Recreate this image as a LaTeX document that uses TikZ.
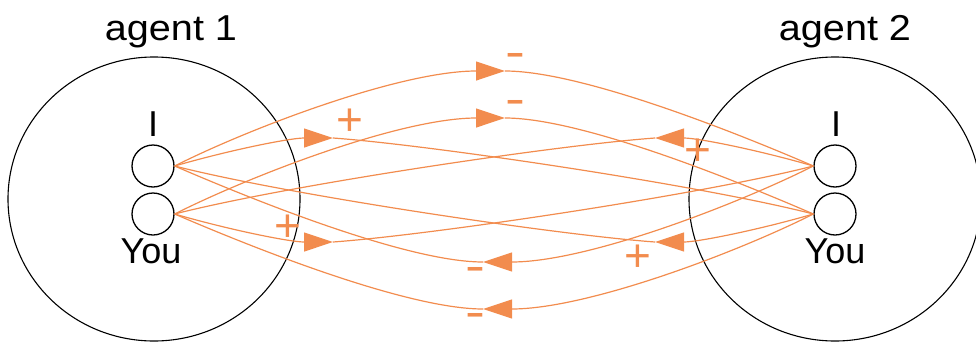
\documentclass[tikz,border=0pt]{standalone}
\usepackage{fontspec}
\setmainfont{Liberation Sans}
\usetikzlibrary{arrows.meta,shapes.geometric}
\definecolor{linkc}{RGB}{242,140,78}
\begin{document}
\begin{tikzpicture}[x=1pt,y=-1pt,
  agent/.style={draw=black, line width=1.1pt, ellipse, inner sep=0pt, minimum width=292pt, minimum height=284pt},
  selfc/.style={draw=black, line width=1.3pt, circle, inner sep=0pt, minimum size=42pt},
  lbl/.style={font=\fontsize{36}{40}\selectfont, inner sep=0pt, anchor=base},
  title/.style={lbl, xscale=1.1},
  link/.style={draw=linkc, line width=1.2pt},
  tipped/.style={link, -{Triangle[length=29pt,width=19pt]}},
  sign/.style={text=linkc, font=\fontsize{46}{46}\selectfont, inner sep=0pt},
  minus/.style={sign, xscale=1.3}
]
\useasboundingbox (0,0) rectangle (976,343);
% agents
\node[agent] (ag1) at (154,199) {};
\node[agent] (ag2) at (835,199) {};
\node[title] (t1) at (171,40) {agent 1};
\node[title] (t2) at (845,40) {agent 2};
% self circles
\node[selfc] (i1) at (153,166) {};
\node[selfc] (y1) at (153,214) {};
\node[selfc] (i2) at (835,166) {};
\node[selfc] (y2) at (835,214) {};
\node[lbl] (li1) at (153,136) {I};
\node[lbl] (ly1) at (151,263) {You};
\node[lbl] (li2) at (836,136) {I};
\node[lbl] (ly2) at (835,263) {You};
% arrow tip coordinates
\coordinate (ta) at (505,71);
\coordinate (tb) at (505,118);
\coordinate (pa) at (333,138);
\coordinate (pb) at (655,138);
\coordinate (pc) at (333,242);
\coordinate (pd) at (655,242);
\coordinate (ba) at (483,262);
\coordinate (bb) at (483,309);
% I1 -> I2 (top)
\draw[tipped] (i1.east) .. controls (250,128) and (400,71) .. (ta);
\draw[link] (ta) .. controls (580,71) and (730,130) .. (i2.west);
% You1 -> You2
\draw[tipped] (y1.east) .. controls (250,176) and (400,118) .. (tb);
\draw[link] (tb) .. controls (580,118) and (730,178) .. (y2.west);
% I1 -> You2
\draw[tipped] (i1.east) .. controls (230,150) and (290,138) .. (pa);
\draw[link] (pa) .. controls (430,145) and (700,185) .. (y2.west);
% I2 -> You1
\draw[tipped] (i2.west) .. controls (758,150) and (698,138) .. (pb);
\draw[link] (pb) .. controls (558,145) and (288,185) .. (y1.east);
% You1 -> I2
\draw[tipped] (y1.east) .. controls (230,230) and (290,242) .. (pc);
\draw[link] (pc) .. controls (430,235) and (700,195) .. (i2.west);
% You2 -> I1
\draw[tipped] (y2.west) .. controls (758,230) and (698,242) .. (pd);
\draw[link] (pd) .. controls (558,235) and (288,195) .. (i1.east);
% I2 -> I1
\draw[tipped] (i2.west) .. controls (738,204) and (588,262) .. (ba);
\draw[link] (ba) .. controls (408,262) and (258,202) .. (i1.east);
% You2 -> You1 (bottom)
\draw[tipped] (y2.west) .. controls (738,252) and (588,309) .. (bb);
\draw[link] (bb) .. controls (408,309) and (258,250) .. (y1.east);
% signs
\node[minus] (sa) at (515,60) {-};
\node[minus] (sb) at (515,107) {-};
\node[sign] (sc) at (350,122) {+};
\node[sign] (sd) at (698,152) {+};
\node[sign] (se) at (288,228) {+};
\node[sign] (sf) at (638,258) {+};
\node[minus] (sg) at (475,274) {-};
\node[minus] (sh) at (475,320) {-};
\end{tikzpicture}
\end{document}
